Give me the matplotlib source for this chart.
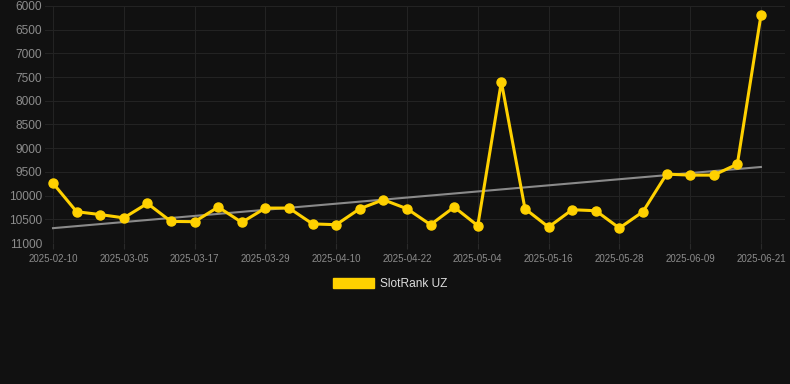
import matplotlib
matplotlib.use("Agg")
import matplotlib.pyplot as plt
import numpy as np
from matplotlib.patches import Patch

tick_labels = ["2025-02-10", "2025-03-05", "2025-03-17", "2025-03-29", "2025-04-10",
               "2025-04-22", "2025-05-04", "2025-05-16", "2025-05-28", "2025-06-09",
               "2025-06-21"]
values = [9740, 10340, 10400, 10470, 10165, 10545, 10550, 10242, 10565, 10263,
          10263, 10597, 10614, 10277, 10088, 10277, 10614, 10242, 10635, 7600,
          10277, 10664, 10298, 10319, 10685, 10340, 9547, 9568, 9568, 9336, 6200]
series_name = "SlotRank UZ"

plt.rcParams["font.family"] = ["Liberation Sans", "DejaVu Sans"]

bg = "#111111"
gold = "#FFD100"

fig = plt.figure(figsize=(7.9, 3.84), dpi=100, facecolor=bg)
ax = fig.add_axes([45/790, 1-243/384, (785-45)/790, (243-6)/384])
ax.set_facecolor(bg)

x = np.arange(len(values))
coef = np.polyfit(x, values, 1)
trend = np.polyval(coef, x)
ax.plot(x, trend, color="#8a8a8a", lw=1.5, zorder=2)
ax.plot(x, values, color=gold, lw=2.2, marker="o", ms=6.5, zorder=3)

ax.set_ylim(11000, 6000)
ax.set_yticks(np.arange(6000, 11001, 500))
ax.set_xlim(-0.34, 31.02)
ax.set_xticks(x[::3])
ax.set_xticklabels(tick_labels)

ax.grid(True, color="#232323", lw=0.8)
ax.set_axisbelow(True)
for s in ax.spines.values():
    s.set_visible(False)
ax.tick_params(axis="y", colors="#8c8c8c", labelsize=8.6, length=0, pad=2)
ax.tick_params(axis="x", colors="#2a2a2a", labelsize=7, length=4, width=0.8,
               pad=4, labelcolor="#8c8c8c")

leg = fig.legend(handles=[Patch(facecolor=gold, edgecolor=gold, label=series_name)],
                 loc="center", bbox_to_anchor=(390/790, 1-284/384), frameon=False,
                 fontsize=8.6, handlelength=3.4, handleheight=1.0, handletextpad=0.5)
for t in leg.get_texts():
    t.set_color("#dddddd")

fig.savefig("out.png", dpi=100, facecolor=bg)
